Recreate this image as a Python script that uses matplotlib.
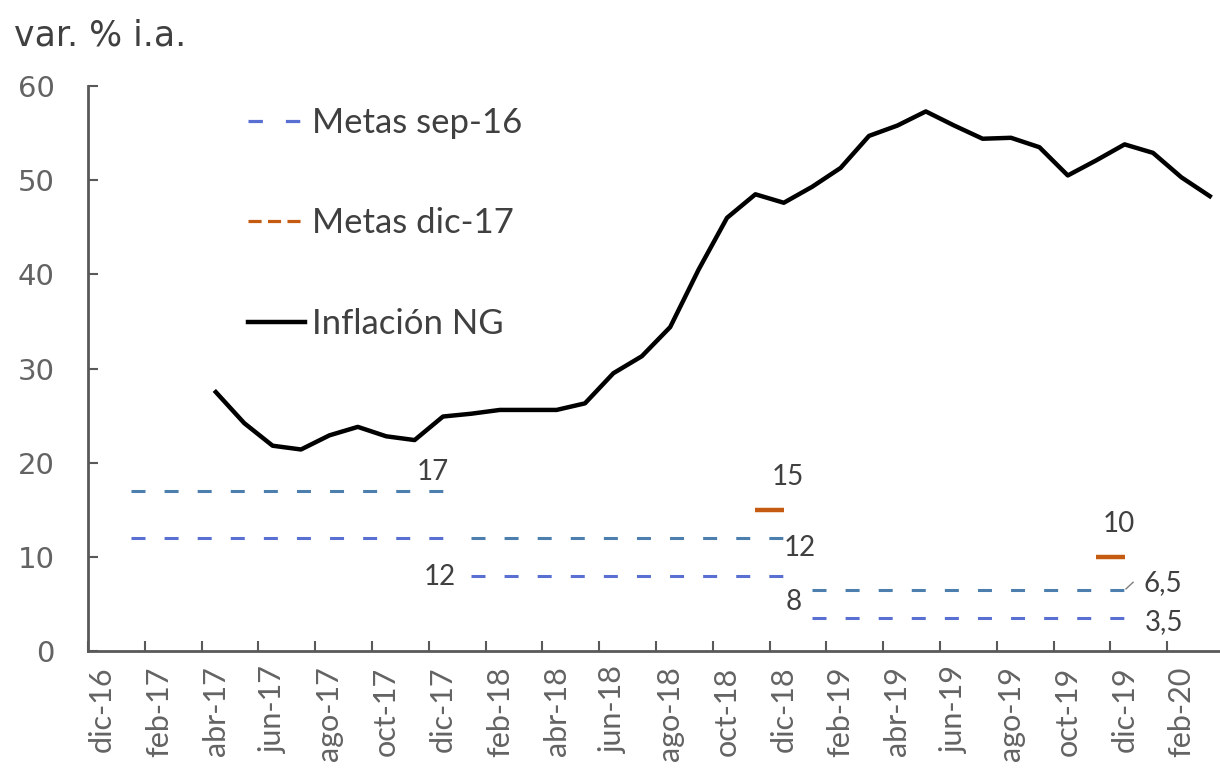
import matplotlib.pyplot as plt
from matplotlib.lines import Line2D

# datos
meses = ['dic-16', 'ene-17', 'feb-17', 'mar-17', 'abr-17', 'may-17', 'jun-17', 'jul-17',
         'ago-17', 'sep-17', 'oct-17', 'nov-17', 'dic-17', 'ene-18', 'feb-18', 'mar-18',
         'abr-18', 'may-18', 'jun-18', 'jul-18', 'ago-18', 'sep-18', 'oct-18', 'nov-18',
         'dic-18', 'ene-19', 'feb-19', 'mar-19', 'abr-19', 'may-19', 'jun-19', 'jul-19',
         'ago-19', 'sep-19', 'oct-19', 'nov-19', 'dic-19', 'ene-20', 'feb-20', 'mar-20']

# inflación NG, desde abr-17 hasta mar-20
inflacion = [27.5, 24.2, 21.8, 21.4, 22.9, 23.8, 22.8, 22.4, 24.9, 25.2, 25.6, 25.6,
             25.6, 26.3, 29.5, 31.3, 34.4, 40.5, 46.0, 48.5, 47.6, 49.3, 51.3, 54.7,
             55.8, 57.3, 55.8, 54.4, 54.5, 53.5, 50.5, 52.1, 53.8, 52.9, 50.3, 48.3]

# metas sep-16 (bandas anuales)
meta_2017 = [12, 17]
meta_2018 = [8, 12]
meta_2019 = [3.5, 6.5]
# metas dic-17
meta_dic17_18 = 15
meta_dic17_19 = 10

x = list(range(len(meses)))
x_infl = x[meses.index('abr-17'):]

azul_sup = '#4d7fae'
azul_inf = '#5a6fd2'
naranja = '#c55a11'
gris = '#404040'

fig = plt.figure(figsize=(12.2, 7.82), dpi=100)
ax = fig.add_axes([88 / 1220, 131 / 782, 1136 / 1220, 565 / 782])

lw_meta = 2.2
dash = (4.58, 6.25)

# 2017: ene-17 a dic-17, 2018: ene-18 a dic-18, 2019: ene-19 a dic-19
x17 = x[1:13]
x18 = x[13:25]
x19 = x[25:37]
ax.plot(x17, [meta_2017[1]] * len(x17), color=azul_sup, lw=lw_meta, dashes=dash)
ax.plot(x17, [meta_2017[0]] * len(x17), color=azul_inf, lw=lw_meta, dashes=dash)
ax.plot(x18, [meta_2018[1]] * len(x18), color=azul_sup, lw=lw_meta, dashes=dash)
ax.plot(x18, [meta_2018[0]] * len(x18), color=azul_inf, lw=lw_meta, dashes=dash)
ax.plot(x19, [meta_2019[1]] * len(x19), color=azul_sup, lw=lw_meta, dashes=dash)
ax.plot(x19, [meta_2019[0]] * len(x19), color=azul_inf, lw=lw_meta, dashes=dash)

# metas dic-17
ax.plot([23, 24], [meta_dic17_18] * 2, color=naranja, lw=3.2, solid_capstyle='butt')
ax.plot([35, 36], [meta_dic17_19] * 2, color=naranja, lw=3.2, solid_capstyle='butt')

ax.plot(x_infl, inflacion, color='black', lw=3.2, solid_joinstyle='round')

# etiquetas de datos
lab = dict(family='Lato', fontsize=20, color=gris, ha='center', va='center')
ax.text(11.65, 19.0, '17', **lab)
ax.text(24.15, 18.5, '15', **lab)
ax.text(24.55, 10.9, '12', **lab)
ax.text(11.9, 7.85, '12', **lab)
ax.text(24.35, 5.2, '8', **lab)
ax.text(35.8, 13.5, '10', **lab)
ax.text(37.35, 7.2, '6,5', **lab)
ax.text(37.4, 3.1, '3,5', **lab)
ax.plot([36.05, 36.3], [6.6, 7.3], color='#7f7f7f', lw=1)

ax.set_xlim(-0.5, 39.5)
ax.set_ylim(0, 60)
ax.set_yticks(range(0, 61, 10))
ax.set_xticks([i + 0.5 for i in range(-1, 39, 2)])
ax.set_xticks(x[0:39:2], minor=True)
ax.set_xticklabels([])
ax.set_xticklabels(meses[0:39:2], minor=True, rotation=90, family='Lato',
                   fontsize=22, color='#636363')
ax.tick_params(axis='x', which='major', direction='in', length=7, width=1.5, color='#595959')
ax.tick_params(axis='x', which='minor', length=0, pad=11)
ax.tick_params(axis='y', direction='in', length=7, width=1.5, color='#595959',
               labelsize=21, labelcolor='#636363', pad=24)
for t in ax.get_yticklabels():
    t.set_family('DejaVu Sans')

for s in ['top', 'right']:
    ax.spines[s].set_visible(False)
for s in ['left', 'bottom']:
    ax.spines[s].set_color('#595959')
    ax.spines[s].set_linewidth(2)

handles = [
    Line2D([], [], color=azul_inf, lw=2.3, dashes=(4.5, 7.2)),
    Line2D([], [], color=naranja, lw=2.3, dashes=(4.1, 2.0)),
    Line2D([], [], color='black', lw=3.2),
]
leg = ax.legend(handles, ['Metas sep-16', 'Metas dic-17', 'Inflación NG'],
                loc='upper left', bbox_to_anchor=(248 / 1220, 1 - 107 / 782),
                bbox_transform=fig.transFigure, frameon=False, borderpad=0,
                borderaxespad=0, handlelength=1.64, handletextpad=0.2,
                labelspacing=1.97, prop={'family': 'Lato', 'size': 25})
for t in leg.get_texts():
    t.set_color(gris)

fig.text(14 / 1220, 1 - 45 / 782, 'var. % i.a.', family='DejaVu Sans',
         fontsize=25, color=gris, ha='left', va='baseline')

fig.savefig('out.png', dpi=100)
